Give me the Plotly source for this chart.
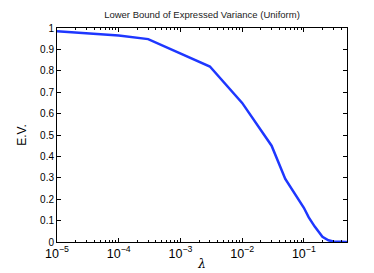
import plotly.graph_objects as go

lam = [1e-5, 1e-4, 3e-4, 3e-3, 1e-2, 3e-2, 5e-2, 7e-2, 1e-1, 1.2e-1, 1.5e-1, 2e-1, 2.5e-1, 3e-1, 4e-1, 5e-1]
ev = [0.985, 0.965, 0.948, 0.82, 0.65, 0.45, 0.295, 0.23, 0.16, 0.115, 0.072, 0.024, 0.008, 0.002, 0.0, 0.0]

title_text = "Lower Bound of Expressed Variance (Uniform)"
x_title = "<i>λ</i>"
y_title = "E.V."
y_ticks = [0, 0.1, 0.2, 0.3, 0.4, 0.5, 0.6, 0.7, 0.8, 0.9, 1]
y_labels = ["0", "0.1", "0.2", "0.3", "0.4", "0.5", "0.6", "0.7", "0.8", "0.9", "1"]

fig = go.Figure()
fig.add_trace(go.Scatter(x=lam, y=ev, mode="lines",
                         line=dict(color="rgb(30,55,255)", width=2.5)))

font_family = "Liberation Sans, Arial, sans-serif"
fig.update_layout(
    width=374, height=273,
    margin=dict(l=49, r=35, t=20, b=31),
    paper_bgcolor="white", plot_bgcolor="white",
    showlegend=False,
    font=dict(family=font_family, size=10, color="black"),
    title=dict(text=title_text, x=0.5, xanchor="center", y=0.975, yanchor="middle",
               xref="paper", font=dict(size=9.5, color="#222")),
)
fig.update_xaxes(
    type="log", range=[-5, -0.30103], dtick=1, exponentformat="power",
    showgrid=False, zeroline=False, showline=True, linecolor="black", linewidth=1,
    mirror="ticks", ticks="inside", ticklen=4, tickcolor="black",
    minor=dict(ticks="inside", ticklen=2, tickcolor="black", showgrid=False),
    tickfont=dict(size=10),
    title=dict(text=x_title, font=dict(size=12, family="DejaVu Serif"), standoff=0),
)
fig.update_yaxes(
    range=[0, 1], tickvals=y_ticks, ticktext=y_labels,
    showgrid=False, zeroline=False, showline=True, linecolor="black", linewidth=1,
    mirror="ticks", ticks="inside", ticklen=4, tickcolor="black",
    tickfont=dict(size=10),
    title=dict(text=y_title, font=dict(size=12), standoff=10),
)

fig.write_html("out.html")
